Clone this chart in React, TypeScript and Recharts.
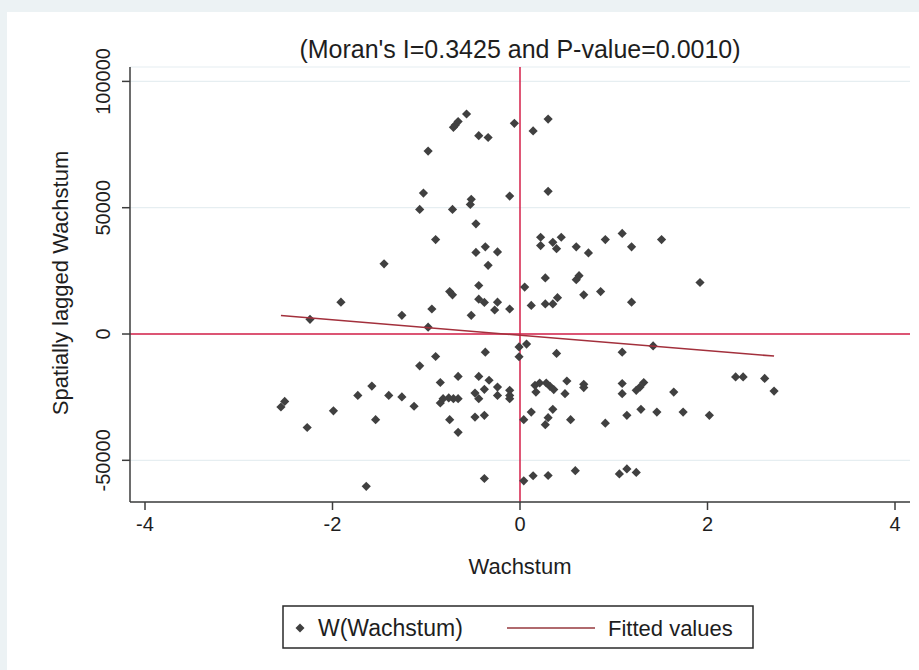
import { CartesianGrid, ReferenceLine, Scatter, ScatterChart, XAxis, YAxis } from "recharts";

const W = 919;
const H = 670;

const xTicks = [-4, -2, 0, 2, 4];
const yTicks = [-50000, 0, 50000, 100000];

// Wachstum (x) and its spatial lag W(Wachstum) (y), one entry per region
const growth = [
  -0.57, -0.71, -0.69, -0.66, -0.44, -0.34, -0.06, 0.14, 0.3, -0.98,
  -1.03, -1.07, -0.72, -0.52, -0.53, -0.11, 0.3, -0.47, -0.9, -0.47,
  -0.37, -0.24, -0.34, 0.22, 0.22, 0.35, 0.39, 0.44, 0.6, 0.73,
  0.91, 1.09, 1.19, 1.51, -1.45, -1.91, -2.24, -1.26, -0.94, -0.98,
  -0.75, -0.72, -0.52, -0.44, -0.44, -0.38, -0.24, -0.27, -0.11, 0.05,
  0.12, 0.27, 0.27, 0.35, 0.4, 0.6, 0.63, 0.68, 0.86, 1.19,
  1.92,
  -0.01, 0.07, -0.01, 0.39, 1.09, 1.42, -0.37, -0.9, -1.07, -0.66,
  -0.44, -0.33, -0.85, -0.24, -0.24, -0.11, -0.11, -0.11, -0.38, -0.48,
  -0.44, -0.76, -0.71, -0.66, -0.82, -0.85, -1.58, -1.73, -1.4, -1.26,
  -1.13, -2.55, -2.51, -1.99, -2.27, -1.54, -0.75, -0.66, -0.48, -0.38,
  0.16, 0.21, 0.28, 0.32, 0.36, 0.17, 0.12, 0.04, 0.35, 0.3,
  0.27, 0.5, 0.48, 0.68, 0.68, 1.09, 1.09, 1.24, 1.28, 1.32,
  1.64, 2.3, 2.38, 2.61, 2.71, 0.54, 0.91, 1.14, 1.29, 1.46,
  1.74, 2.02, -1.64, -0.38, 0.04, 0.14, 0.3, 0.59, 1.06, 1.14,
  1.24,
];
const lagged = [
  87100, 81800, 82700, 84100, 78500, 77800, 83400, 80400, 85100, 72400,
  55800, 49300, 49300, 53300, 51300, 54600, 56500, 43600, 37400, 32300,
  34500, 32500, 27200, 38300, 35000, 36300, 33800, 38300, 34500, 32100,
  37400, 39800, 34500, 37400, 27800, 12600, 5800, 7400, 9900, 2700,
  16800, 15500, 7400, 19200, 13800, 12500, 12600, 9500, 9900, 18600,
  11300, 22200, 11900, 11900, 14400, 21500, 23100, 15500, 16800, 12600,
  20400,
  -5100, -4000, -9000, -7700, -7200, -4700, -7200, -8900, -12600, -16800,
  -16800, -18300, -19200, -21000, -24300, -22300, -24300, -25600, -21900, -23400,
  -25600, -25300, -25600, -25600, -25600, -27300, -20600, -24300, -24300, -24900,
  -28600, -28900, -26700, -30400, -37000, -33900, -33900, -38900, -32900, -32200,
  -20300, -19400, -19400, -20700, -22000, -23000, -30900, -33900, -29800, -33100,
  -35900, -18600, -23600, -19900, -21200, -19600, -23600, -22300, -21000, -19200,
  -23000, -17000, -17000, -17600, -22600, -33900, -35300, -32200, -29800, -30900,
  -30900, -32200, -60300, -57200, -58100, -56100, -56000, -54100, -55400, -53400,
  -54800,
];

// linear fit, drawn between the smallest and largest Wachstum
const fitX = [-2.55, 2.71];
const fitY = [7300, -8750];

const points = growth.map((x, i) => ({ x, y: lagged[i] }));
const fitted = fitX.map((x, i) => ({ x, y: fitY[i] }));

const FONT = '"Liberation Sans", Arial, Helvetica, sans-serif';
const TEXT = "#1e1e1e";
const MARKER = "#404040";
const AXIS = "#3c3c3c";
const REF = "#d41f48";
const FIT = "#a3303c";

const Diamond = (p: any) => {
  const { cx, cy } = p;
  const r = 4.6;
  return <path d={`M${cx},${cy - r}L${cx + r},${cy}L${cx},${cy + r}L${cx - r},${cy}Z`} fill={MARKER} />;
};

const YTick = ({ x, y, payload }: any) => (
  <text
    x={x}
    y={y}
    transform={`rotate(-90 ${x} ${y})`}
    textAnchor="middle"
    fontSize={20}
    fontFamily={FONT}
    fill={TEXT}
  >
    {payload.value}
  </text>
);

export default function App() {
  return (
    <div style={{ position: "absolute", left: 0, top: 0, width: W, height: H, background: "#ecf2f4" }}>
      <div style={{ position: "absolute", left: 7, top: 12, right: 0, bottom: 0, background: "#fff" }} />
      <div style={{ position: "absolute", left: 0, top: 0 }}>
        <ScatterChart width={W} height={H} margin={{ top: 67, right: 9, bottom: 108, left: 70 }}>
          <CartesianGrid horizontal vertical={false} stroke="#e6eef1" strokeWidth={1.2} />
          <XAxis
            type="number"
            dataKey="x"
            domain={[-4.16, 4.16]}
            ticks={xTicks}
            allowDataOverflow
            height={60}
            stroke={AXIS}
            strokeWidth={1.5}
            tickSize={8}
            tickMargin={7}
            tick={{ fontSize: 20, fill: TEXT, fontFamily: FONT }}
          />
          <YAxis
            type="number"
            dataKey="y"
            domain={[-66500, 105700]}
            ticks={yTicks}
            allowDataOverflow
            width={60}
            stroke={AXIS}
            strokeWidth={1.5}
            tickSize={8}
            tickMargin={12}
            tick={<YTick />}
          />
          <ReferenceLine y={0} stroke={REF} strokeWidth={1.5} />
          <ReferenceLine x={0} stroke={REF} strokeWidth={1.5} />
          <Scatter data={points} shape={<Diamond />} isAnimationActive={false} />
          <Scatter
            data={fitted}
            line={{ stroke: FIT, strokeWidth: 1.5 }}
            shape={() => <g />}
            isAnimationActive={false}
          />
        </ScatterChart>
      </div>
      <svg width={W} height={H} style={{ position: "absolute", left: 0, top: 0, pointerEvents: "none" }}>
        <g fontFamily={FONT} fill={TEXT}>
          <text x={520} y={58} textAnchor="middle" fontSize={25}>
            (Moran's I=0.3425 and P-value=0.0010)
          </text>
          <text x={520} y={574} textAnchor="middle" fontSize={22}>
            Wachstum
          </text>
          <text x={68} y={283} textAnchor="middle" fontSize={22} transform="rotate(-90 68 283)">
            Spatially lagged Wachstum
          </text>
        </g>
        <rect x={283} y={606} width={470} height={42} fill="#fff" stroke="#2a2a2a" strokeWidth={1.5} />
        <path d="M300,623.5L304.5,628L300,632.5L295.5,628Z" fill={MARKER} />
        <text x={318} y={636} fontSize={23} fontFamily={FONT} fill={TEXT}>
          W(Wachstum)
        </text>
        <line x1={507} y1={628} x2={595} y2={628} stroke="#b06a6e" strokeWidth={2} />
        <text x={608} y={636} fontSize={22} fontFamily={FONT} fill={TEXT}>
          Fitted values
        </text>
      </svg>
    </div>
  );
}
